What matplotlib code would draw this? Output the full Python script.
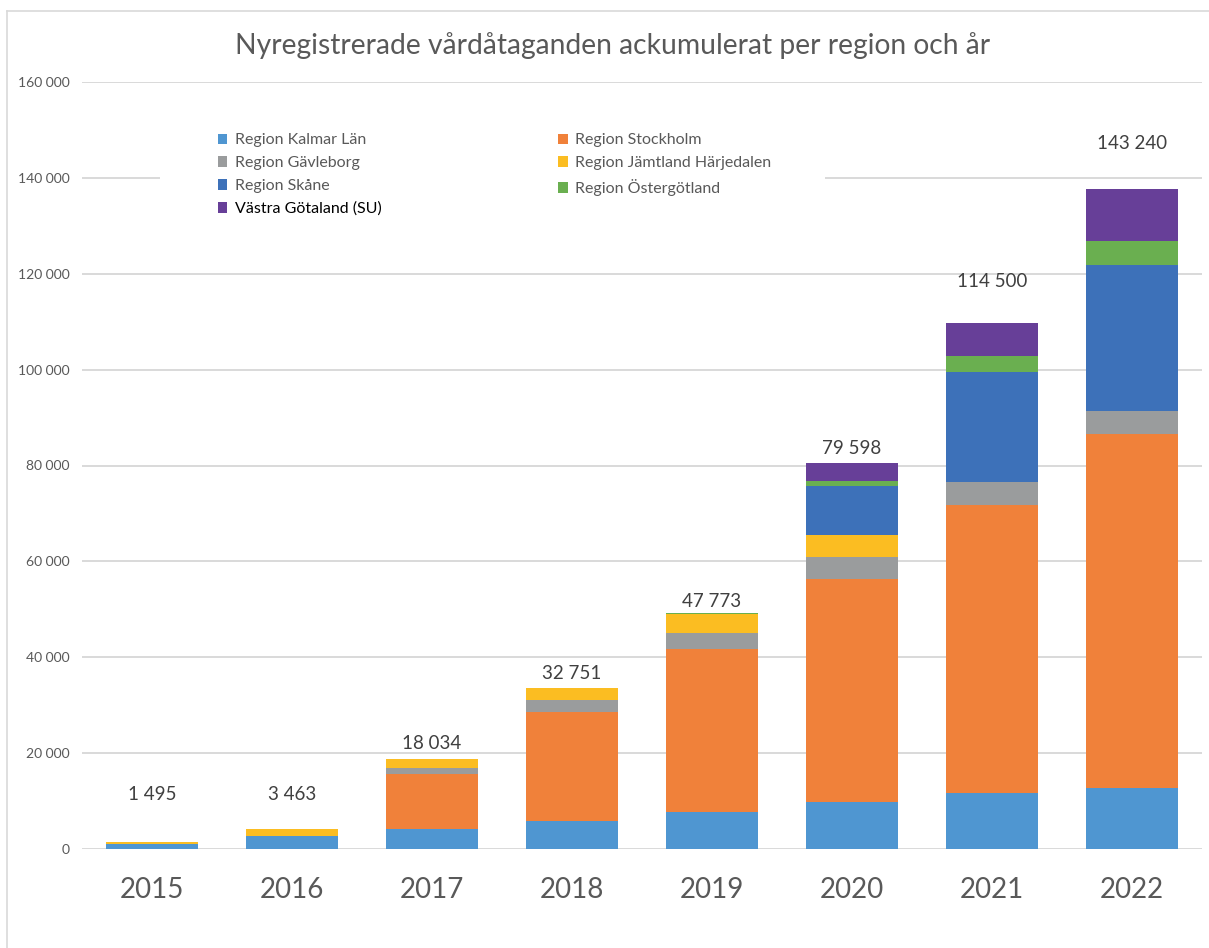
import matplotlib.pyplot as plt
import numpy as np
from matplotlib.ticker import FuncFormatter
from matplotlib.patches import Rectangle
from matplotlib.lines import Line2D

plt.rcParams['font.family'] = ['Lato', 'DejaVu Sans']

years = ['2015', '2016', '2017', '2018', '2019', '2020', '2021', '2022']
kalmar = [1000, 2700, 4200, 5800, 7700, 9800, 11600, 12700]
stockholm = [0, 0, 11500, 22700, 34000, 46500, 60100, 73800]
gavleborg = [0, 0, 1250, 2500, 3350, 4600, 4900, 4900]
jamtland = [500, 1450, 1900, 2500, 3950, 4600, 0, 0]
skane = [0, 0, 0, 0, 0, 10200, 22900, 30400]
ostergotland = [0, 0, 0, 0, 200, 1000, 3300, 5000]
vastra_gotaland = [0, 0, 0, 0, 0, 3750, 7000, 10900]
totals = [1495, 3463, 18034, 32751, 47773, 79598, 114500, 143240]

series = [
    ('Region Kalmar Län', kalmar, '#4F96D1'),
    ('Region Stockholm', stockholm, '#F0813A'),
    ('Region Gävleborg', gavleborg, '#9A9C9D'),
    ('Region Jämtland Härjedalen', jamtland, '#FBBD22'),
    ('Region Skåne', skane, '#3D71B9'),
    ('Region Östergötland', ostergotland, '#6AAF50'),
    ('Västra Götaland (SU)', vastra_gotaland, '#673F98'),
]

fig = plt.figure(figsize=(12.09, 9.48), dpi=100)
ax = fig.add_axes([82/1209, 99/948, 1120/1209, 767/948])

x = np.arange(len(years))
bottom = np.zeros(len(years))
handles = {}
for name, vals, col in series:
    vals = np.array(vals, dtype=float)
    b = ax.bar(x, vals, 0.66, bottom=bottom, color=col, label=name, zorder=2)
    handles[name] = b
    bottom += vals

# total labels above each bar
for xi, t in zip(x, totals):
    ax.annotate(format(t, ',').replace(',', ' '), (xi, max(t, 7500)),
                xytext=(0, 7.5), textcoords='offset points',
                ha='center', va='bottom', fontsize=13.5, color='#404040', zorder=4)

ax.set_xlim(-0.5, 7.5)
ax.set_ylim(0, 160000)
ax.set_yticks(np.arange(0, 160001, 20000))
ax.yaxis.set_major_formatter(FuncFormatter(lambda v, p: format(int(v), ',').replace(',', ' ')))
ax.set_xticks(x)
ax.set_xticklabels(years)
ax.tick_params(axis='y', length=0, pad=9, labelsize=10, labelcolor='#595959')
ax.tick_params(axis='x', length=0, pad=20, labelsize=20, labelcolor='#595959')
ax.grid(axis='y', color='#D9D9D9', linewidth=1.4)
ax.set_axisbelow(True)
for s in ax.spines.values():
    s.set_visible(False)

# white area behind legend hides the gridline
ax.add_patch(Rectangle((0.0696, 0.814), 0.594, 0.136, transform=ax.transAxes,
                       facecolor='white', edgecolor='none', zorder=1.5))

order = ['Region Kalmar Län', 'Region Gävleborg', 'Region Skåne', 'Västra Götaland (SU)',
         'Region Stockholm', 'Region Jämtland Härjedalen', 'Region Östergötland']
leg = ax.legend([handles[n] for n in order], order, ncol=2, loc='upper left',
                bbox_to_anchor=(0.121, 0.933), frameon=False, fontsize=11.5,
                handlelength=0.62, handleheight=0.62, handletextpad=0.45,
                labelspacing=0.55, columnspacing=11.05, borderpad=0, borderaxespad=0)
for t in leg.get_texts():
    t.set_color('black' if t.get_text().startswith('Västra') else '#595959')

fig.text(0.507, 0.952, 'Nyregistrerade vårdåtaganden ackumulerat per region och år',
         ha='center', va='center', fontsize=20.3, color='#595959')

# outer chart frame
fig.add_artist(Line2D([7/1209, 7/1209], [0, 1 - 11/948], transform=fig.transFigure,
                      color='#D9D9D9', linewidth=1.2))
fig.add_artist(Line2D([7/1209, 1], [1 - 11/948, 1 - 11/948], transform=fig.transFigure,
                      color='#D9D9D9', linewidth=1.2))

plt.savefig('out.png', dpi=100)
